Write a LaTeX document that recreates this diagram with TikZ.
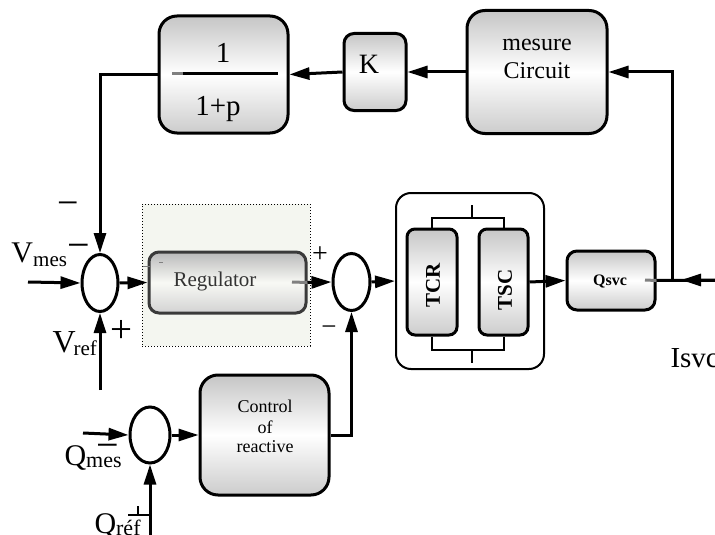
\documentclass[tikz,border=0pt]{standalone}
\usepackage{fontspec}
\setmainfont{Liberation Serif}
\usetikzlibrary{arrows.meta,shapes.geometric}
\begin{document}
\begin{tikzpicture}[x=1pt,y=-1pt,line width=3pt,
  arr/.style={-{Triangle[length=20pt,width=12pt]}},
  blk/.style={draw, rounded corners=#1, top color=gray!45, bottom color=gray!40, middle color=white, inner sep=0pt},
  blk/.default=12pt,
  sumnode/.style={draw, ellipse, fill=white, inner sep=0pt},
  txt/.style={inner sep=0pt},
  fs/.style={font=\fontsize{#1}{#1}\selectfont}
]
\useasboundingbox (0,0) rectangle (715,535);
% dotted background of regulator
\node[draw, dotted, line width=1pt, fill={rgb,255:red,244;green,246;blue,240}, minimum width=168pt, minimum height=142pt, inner sep=0pt] (regbg) at (226,275) {};
% blocks
\node[blk=18pt, minimum width=129pt, minimum height=117pt] (frac) at (223.5,74.5) {};
\node[blk=10pt, minimum width=62pt, minimum height=77pt] (k) at (375,72) {};
\node[blk=18pt, minimum width=140pt, minimum height=123pt] (meas) at (537,72) {};
\node[blk=10pt, draw={rgb,255:red,58;green,58;blue,58}, top color=gray!55, bottom color=gray!35, middle color={rgb,255:red,248;green,249;blue,245}, minimum width=157pt, minimum height=61pt] (reg) at (227.5,282.5) {};
\node[draw, rounded corners=15pt, line width=2pt, fill=white, minimum width=148pt, minimum height=176pt, inner sep=0pt] (outer) at (470,281) {};
\node[blk=8pt, minimum width=50pt, minimum height=106pt] (tcr) at (432,282) {};
\node[blk=8pt, minimum width=49pt, minimum height=106pt] (tsc) at (503.5,282) {};
\node[blk=10pt, minimum width=88pt, minimum height=59pt] (q) at (611,280.5) {};
\node[blk=18pt, minimum width=129pt, minimum height=120pt] (ctrl) at (264.5,435) {};
% summing junctions
\node[sumnode, minimum width=36pt, minimum height=57pt] (s1) at (100,283) {};
\node[sumnode, minimum width=37pt, minimum height=57pt] (s2) at (351.5,282) {};
\node[sumnode, minimum width=40pt, minimum height=56pt] (s3) at (150,435) {};
% coordinates
\coordinate (vin) at (28,282);
\coordinate (vref) at (100,390);
\coordinate (qin) at (83,433);
\coordinate (qref) at (150,540);
\coordinate (iin) at (720,280);
\coordinate (jt) at (681,280);
\coordinate (jn) at (672,280);
\coordinate (bt) at (472,218);
\coordinate (bb) at (472,350);
% texts
\node[txt, fs=29, anchor=base] (t1) at (223,63) {1};
\node[txt, fs=29, anchor=base] (t1p) at (218,115) {1+p};
\draw (183,74) -- (278,74);
\draw[gray] (172,74) -- (183,74);
\node[txt, fs=28, anchor=base] (tk) at (369,74) {K};
\node[txt, fs=24, align=center, anchor=base] (tm) at (537,78) {mesure\\[4pt]Circuit};
\node[txt, fs=21, text={rgb,255:red,51;green,51;blue,51}, anchor=base] (tr) at (215,286) {Regulator};
\draw[gray, line width=1pt] (143,266) -- (150,266) (159,262) -- (163,262);
\node[txt, rotate=90, font=\fontsize{21}{21}\selectfont\bfseries] (ttcr) at (433,285.5) {TCR};
\node[txt, rotate=90, font=\fontsize{21}{21}\selectfont\bfseries] (ttsc) at (505,290) {TSC};
\node[txt, anchor=base, font=\fontsize{16}{16}\selectfont\bfseries] (tq) at (610,285) {Qsvc};
\node[txt, fs=18, align=center, anchor=base] (tc) at (265,452) {Control\\[3pt]of\\[1pt]reactive};
% connectors
\draw[arr] (meas.west) -- (k.east);
\draw[arr] (k.west) -- (frac.east);
\draw[arr] (frac.west) -| (s1.north);
\draw[arr] (vin) -- (s1.west);
\draw[arr] (vref) -- (s1.south);
\draw[arr] (s1.east) -- (reg.west);
\draw[gray] (292,282) -- (reg.east);
\draw[arr] (reg.east) -- (s2.west);
\draw[arr] (s2.east) -- (outer.west);
\draw[arr] (tsc.east) -- (q.west);
\draw[gray] (645,280) -- (q.east);
\draw (q.east) -- (iin);
\draw[arr] (jn) |- (meas.east);
\draw[arr] (iin) -- (jt);
\draw[arr] (qin) -- (s3.west);
\draw[arr] (qref) -- (s3.south);
\draw[arr] (s3.east) -- (ctrl.west);
\draw[arr] (ctrl.east) -| (s2.south);
% brackets
\draw[line width=2pt] (tcr.north) -- (tcr.north |- bt) -- (tsc.north |- bt) -- (tsc.north);
\draw[line width=2pt] (bt) -- ++(0,-13);
\draw[line width=2pt] (tcr.south) -- (tcr.south |- bb) -- (tsc.south |- bb) -- (tsc.south);
\draw[line width=2pt] (bb) -- ++(0,13);
% signs and labels
\node[txt, fs=38, anchor=base] (m1) at (68,215) {−};
\node[txt, fs=40, anchor=base] (m2) at (79,258.5) {−};
\node[txt, fs=39, anchor=base] (p1) at (121,342) {+};
\node[txt, fs=28, anchor=base] (p2) at (320,262) {+};
\node[txt, fs=27, anchor=base] (m3) at (329,335) {−};
\node[txt, fs=40, anchor=base] (m4) at (107.5,458) {−};
\draw[line width=2pt] (128,515) -- (150,515) (138,506) -- (138,515);
\node[txt, anchor=base west] (lvm) at (10,262) {\fontsize{30}{30}\selectfont V\raisebox{-4pt}{\fontsize{21}{21}\selectfont mes}};
\node[txt, anchor=base west] (lvr) at (51,352) {\fontsize{32}{32}\selectfont V\kern-2pt\raisebox{-3pt}{\fontsize{21}{21}\selectfont ref}};
\node[txt, anchor=base west] (lqm) at (63,465) {\fontsize{30}{30}\selectfont Q\raisebox{-2pt}{\fontsize{22}{22}\selectfont mes}};
\node[txt, anchor=base west] (lqr) at (93,533) {\fontsize{30}{30}\selectfont Q\raisebox{-2pt}{\fontsize{22}{22}\selectfont réf}};
\node[txt, anchor=base west, fs=29] (li) at (669,367) {Isvc};
\end{tikzpicture}
\end{document}
